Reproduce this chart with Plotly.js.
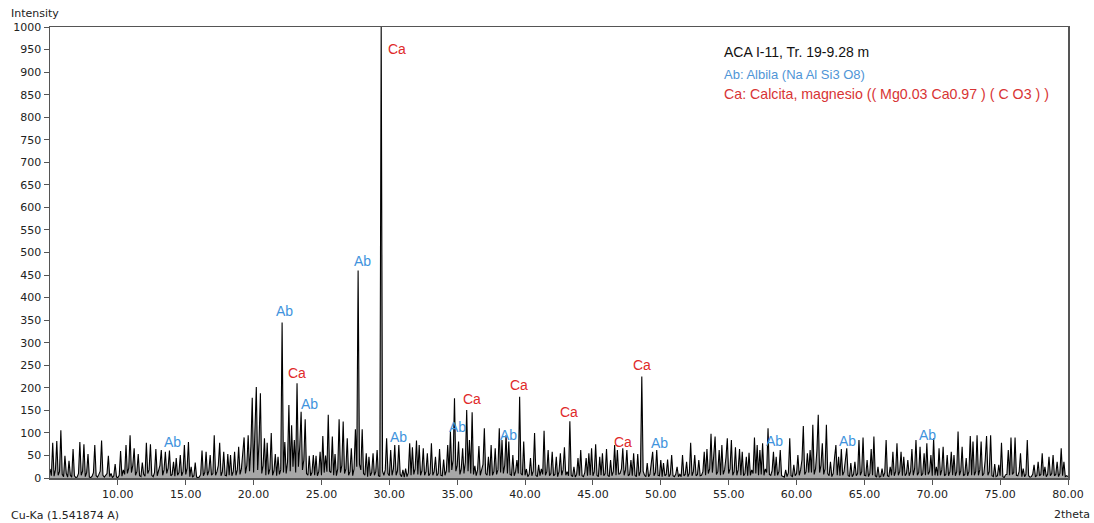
<!DOCTYPE html>
<html>
<head>
<meta charset="utf-8">
<script src="https://cdn.plot.ly/plotly-3.0.1.min.js"></script>
<style>
  html, body { margin: 0; padding: 0; background: #fff; }
  #chart { width: 1094px; height: 523px; }
</style>
</head>
<body>
<div id="chart"></div>
<script>
// Diffractogram ACA I-11, Tr. 19-9.28 m — Cu-Ka scan, 5.0 to 80.0 deg 2theta, 0.1 deg step
const scanStart = 5.0;
const scanStep = 0.1;

// Intensity counts, one row per degree (x.0 ... x.9)
const counts = [
  20,5,78,4,18,82,6,14,106,8,          // 5
  3,49,10,2,38,6,2,64,5,1,             // 6
  2,10,80,6,15,75,3,12,53,2,           // 7
  1,4,12,73,5,2,8,15,83,6,             // 8
  2,6,10,49,3,10,1,5,31,2,             // 9
  1,6,60,4,18,8,73,10,22,95,           // 10
  12,28,66,6,14,53,5,3,34,8,           // 11
  4,78,10,18,75,6,3,12,64,5,           // 12
  14,28,62,6,18,58,10,22,61,5,         // 13
  8,36,4,44,6,12,51,5,14,73,           // 14
  8,22,80,3,25,2,5,34,2,1,             // 15
  2,8,61,5,12,58,6,15,51,6,            // 16
  10,95,6,14,28,78,5,14,58,6,          // 17
  5,53,6,51,5,14,58,6,18,69,           // 18
  8,20,55,90,10,28,95,15,70,178,       // 19
  12,90,202,18,80,188,10,28,88,6,      // 20
  78,8,20,100,6,16,53,5,47,8,          // 21
  18,345,12,80,10,35,162,15,117,25,    // 22
  84,12,210,25,70,147,18,40,130,10,    // 23
  6,49,5,12,51,6,49,5,14,58,           // 24
  6,93,12,50,14,140,15,12,92,6,        // 25
  53,5,20,130,12,28,125,10,20,88,      // 26
  6,14,66,5,20,108,25,460,30,18,       // 27
  108,10,6,55,3,47,5,12,55,6,          // 28
  14,62,5,3,1000,15,6,18,88,10,        // 29
  5,62,6,20,73,6,16,73,8,3,            // 30
  18,2,21,3,12,77,6,68,8,20,           // 31
  83,8,73,6,16,66,6,14,55,5,           // 32
  10,77,6,14,47,5,10,64,6,5,           // 33
  41,6,16,73,12,103,18,40,177,15,      // 34
  28,81,8,20,66,10,35,151,15,84,       // 35
  10,146,8,27,5,18,71,6,18,30,         // 36
  110,10,6,47,5,73,6,14,66,8,          // 37
  18,110,12,84,10,28,95,10,81,8,       // 38
  6,51,5,14,40,10,180,10,6,81,         // 39
  6,20,3,8,44,5,15,100,6,3,            // 40
  29,5,20,8,105,6,14,62,5,10,          // 41
  58,5,8,47,3,14,55,6,18,68,           // 42
  6,14,5,126,6,3,25,2,8,44,            // 43
  5,62,5,3,12,44,5,55,6,66,            // 44
  5,14,75,6,3,47,6,55,5,10,            // 45
  64,6,3,40,5,14,73,6,62,8,            // 46
  10,20,66,6,18,62,5,8,40,5,           // 47
  55,6,3,53,5,14,225,15,6,3,           // 48
  33,3,8,35,58,5,12,62,6,5,            // 49
  40,3,33,5,8,41,3,8,51,5,             // 50
  3,8,25,3,8,3,51,5,8,36,              // 51
  3,10,78,5,14,51,5,8,40,5,            // 52
  6,14,58,6,64,10,20,98,12,50,         // 53
  92,8,14,62,6,73,8,18,45,88,          // 54
  10,20,84,6,14,68,6,18,64,6,          // 55
  58,5,10,47,5,56,6,18,10,90,          // 56
  10,73,6,62,8,77,6,20,12,110,         // 57
  8,6,16,58,5,47,6,14,62,5,            // 58
  3,2,18,3,12,88,5,3,29,5,             // 59
  10,51,6,18,40,115,8,14,55,12,        // 60
  62,12,118,8,20,60,140,12,28,77,      // 61
  8,20,118,10,5,36,3,10,45,73,         // 62
  6,47,5,64,6,14,40,66,6,3,            // 63
  33,3,8,36,5,10,84,6,14,90,           // 64
  6,5,40,3,10,64,6,92,5,2,             // 65
  25,2,3,21,3,12,84,5,3,25,            // 66
  6,58,5,14,77,6,14,58,5,47,           // 67
  5,10,40,5,14,64,6,20,84,6,           // 68
  12,69,5,10,55,6,77,8,14,51,          // 69
  5,88,6,25,5,66,6,18,69,5,            // 70
  8,51,5,14,58,6,51,5,14,103,          // 71
  6,16,69,5,8,44,5,14,93,6,            // 72
  81,6,14,95,6,18,81,5,10,40,          // 73
  93,6,14,95,5,3,31,3,5,29,            // 74
  5,78,3,1,7,8,62,6,90,8,              // 75
  12,90,6,5,14,55,3,21,3,8,            // 76
  84,5,2,3,8,29,3,5,36,5,              // 77
  8,55,5,25,3,8,47,5,10,51,            // 78
  5,8,36,3,10,66,5,36,3,5,             // 79
  3                                    // 80
];

// Phase identification marks: phase code and 2theta of the label
const markPhase = ['Ab','Ab','Ca','Ab','Ab','Ca','Ab','Ab','Ca','Ab','Ca','Ca','Ca','Ca','Ab','Ab','Ab','Ab'];
const markAngle = [13.99,22.24,23.2,24.09,27.99,30.57,30.64,34.99,36.1,38.75,39.56,43.25,47.23,48.63,49.88,58.35,63.73,69.63];
const markHeight = [80,370,233,164,481,951,91,113,175,95,206,146,80,251,78,82,82,95];

// Axis ticks
const xTickVals = [10,15,20,25,30,35,40,45,50,55,60,65,70,75,80];
const xTickText = ['10.00','15.00','20.00','25.00','30.00','35.00','40.00','45.00','50.00','55.00','60.00','65.00','70.00','75.00','80.00'];
const yTickVals = [0,50,100,150,200,250,300,350,400,450,500,550,600,650,700,750,800,850,900,950,1000];

// Legend text
const sampleName = 'ACA I-11, Tr. 19-9.28 m';
const phaseNames = {
  Ab: 'Ab: Albila (Na Al Si3 O8)',
  Ca: 'Ca: Calcita, magnesio (( Mg0.03 Ca0.97 ) ( C O3 ) )'
};

const phaseColor = { Ab: '#3f93dd', Ca: '#e02a2a' };
const legendColor = { Ab: '#4f95d6', Ca: '#d83434' };

const twoTheta = counts.map((_, i) => +(scanStart + i * scanStep).toFixed(2));

// Pattern drawn as a dark outline with a grey body under each reflection
const trace = {
  x: twoTheta,
  y: counts,
  type: 'scatter',
  mode: 'lines',
  fill: 'tozeroy',
  fillcolor: 'rgba(95,95,95,0.55)',
  line: { color: '#000000', width: 1.1 },
  hoverinfo: 'x+y'
};

const W = 1094, H = 523;
const M = { l: 50, r: 26, t: 27, b: 45 };
const plotW = W - M.l - M.r, plotH = H - M.t - M.b;
const px = v => (v - M.l) / plotW;
const py = v => (H - M.b - v) / plotH;

const labelFont = 'Liberation Sans, Arial, sans-serif';
const axisFont = 'DejaVu Sans, Verdana, sans-serif';

const annotations = [];

markPhase.forEach((ph, i) => {
  annotations.push({
    x: markAngle[i], y: markHeight[i], xref: 'x', yref: 'y',
    text: ph, showarrow: false, xanchor: 'center', yanchor: 'middle',
    font: { family: labelFont, size: 14, color: phaseColor[ph] }
  });
});

annotations.push(
  { x: px(722), y: py(52), xref: 'paper', yref: 'paper', text: sampleName, showarrow: false,
    xanchor: 'left', yanchor: 'middle', font: { family: labelFont, size: 14, color: '#111' } },
  { x: px(722), y: py(74), xref: 'paper', yref: 'paper', text: phaseNames.Ab, showarrow: false,
    xanchor: 'left', yanchor: 'middle', font: { family: labelFont, size: 13, color: legendColor.Ab } },
  { x: px(722), y: py(94), xref: 'paper', yref: 'paper', text: phaseNames.Ca, showarrow: false,
    xanchor: 'left', yanchor: 'middle', font: { family: labelFont, size: 14.2, color: legendColor.Ca } },
  { x: px(9), y: py(13), xref: 'paper', yref: 'paper', text: 'Intensity', showarrow: false,
    xanchor: 'left', yanchor: 'middle', font: { family: axisFont, size: 11, color: '#222' } },
  { x: px(9), y: py(515), xref: 'paper', yref: 'paper', text: 'Cu-Ka (1.541874 A)', showarrow: false,
    xanchor: 'left', yanchor: 'middle', font: { family: axisFont, size: 11, color: '#222' } },
  { x: px(1092), y: py(514), xref: 'paper', yref: 'paper', text: '2theta', showarrow: false,
    xanchor: 'right', yanchor: 'middle', font: { family: axisFont, size: 11, color: '#222' } }
);

const axisCommon = {
  showgrid: false, zeroline: false, showline: true, mirror: true,
  linecolor: '#555', linewidth: 1.5,
  ticks: 'outside', ticklen: 5, tickwidth: 1, tickcolor: '#555',
  tickfont: { family: axisFont, size: 11, color: '#222' },
  fixedrange: true
};

const layout = {
  width: W, height: H,
  margin: M,
  paper_bgcolor: '#ffffff', plot_bgcolor: '#ffffff',
  showlegend: false,
  xaxis: Object.assign({}, axisCommon, {
    range: [5, 80], tickmode: 'array', tickvals: xTickVals, ticktext: xTickText
  }),
  yaxis: Object.assign({}, axisCommon, {
    range: [0, 1000], tickmode: 'array', tickvals: yTickVals,
    ticktext: yTickVals.map(String)
  }),
  annotations: annotations
};

Plotly.newPlot('chart', [trace], layout, { displayModeBar: false, staticPlot: true });
</script>
</body>
</html>
